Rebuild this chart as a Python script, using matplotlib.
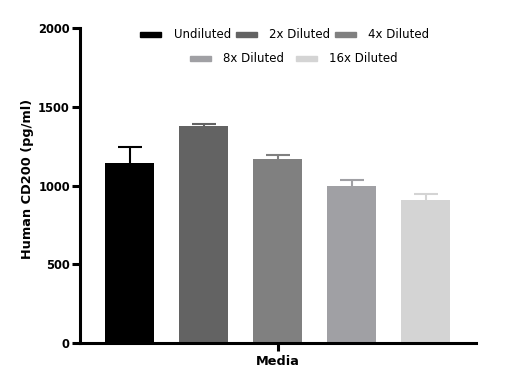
import matplotlib
matplotlib.use("Agg")
import matplotlib.pyplot as plt
from matplotlib.patches import Rectangle

plt.rcParams['font.family'] = ['DejaVu Sans']

series = ["Undiluted", "2x Diluted", "4x Diluted", "8x Diluted", "16x Diluted"]
means = [1141, 1378, 1168, 997, 908]
errors = [103, 11, 24, 40, 36]
colors = ["#000000", "#636363", "#808080", "#A0A0A4", "#D4D4D4"]
category = "Media"
yticks = [0, 500, 1000, 1500, 2000]

W, H = 520, 389
fig = plt.figure(figsize=(W/100, H/100), dpi=100)
ax = fig.add_axes([80/W, 1-343/H, (476-80)/W, (343-28)/H])

n = len(series)
offsets = [i - (n-1)/2 for i in range(n)]
bw = 0.662
capw = 0.162
for off, m, e, c in zip(offsets, means, errors, colors):
    ax.bar(off, m, width=bw, color=c, zorder=2)
    ax.vlines(off, m, m + e, colors=c, linewidth=1.5, zorder=1)
    ax.hlines(m + e, off - capw, off + capw, colors=c, linewidth=1.5, zorder=1)

ax.set_xlim(-2.67, 2.68)
ax.set_ylim(0, 2000)
ax.set_yticks(yticks)
ax.set_yticklabels([str(t) for t in yticks], fontweight='bold', fontsize=8.3)
ax.set_xticks([0])
ax.set_xticklabels([category], fontweight='bold', fontsize=9.3)
ax.set_ylabel("Human CD200 (pg/ml)", fontweight='bold', fontsize=9.3)
ax.yaxis.set_label_coords(-0.117, 0.52)
for s in ['top', 'right']:
    ax.spines[s].set_visible(False)
for s in ['left', 'bottom']:
    ax.spines[s].set_linewidth(2.2)
ax.tick_params(axis='both', width=2.2, length=5.8, pad=1.5)
ax.tick_params(axis='x', pad=3)

# legend, manually laid out in two centered rows
rows = [[(0, 140, 174), (1, 236, 269), (2, 335, 368)], [(3, 190, 223), (4, 296, 329)]]
row_y = [34.5, 58.5]
base_y = [38.5, 62.5]
for row, yy, by in zip(rows, row_y, base_y):
    for idx, xx, tx in row:
        fig.patches.append(Rectangle((xx/W, 1-(yy+2.5)/H), 21/W, 5/H,
                                     transform=fig.transFigure, color=colors[idx]))
        fig.text(tx/W, 1-by/H, series[idx], fontsize=8.5, va='baseline', ha='left')

fig.savefig("out.png", dpi=100)
